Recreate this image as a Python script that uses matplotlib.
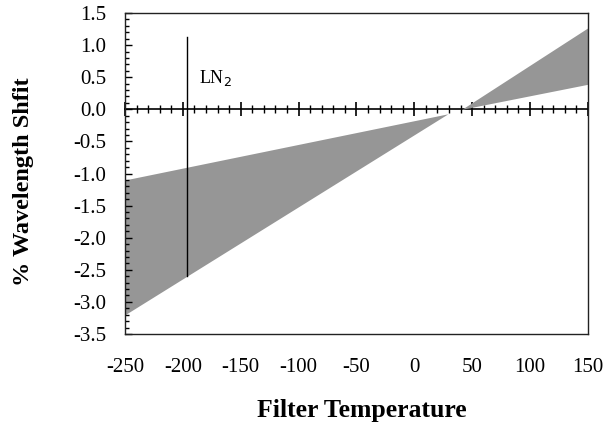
import matplotlib
matplotlib.use("Agg")
import matplotlib.pyplot as plt
from matplotlib.ticker import MultipleLocator

plt.rcParams['font.family'] = ['Liberation Serif', 'DejaVu Serif']

# Data
cold_temp = [-250, 29]
cold_upper = [-1.1, -0.07]
cold_lower = [-3.2, -0.07]
warm_temp = [41, 150]
warm_upper = [0.0, 1.27]
warm_lower = [0.0, 0.39]
ln2_temp = -196
ln2_range = [-2.6, 1.13]
x_ticks = [-250, -200, -150, -100, -50, 0, 50, 100, 150]
y_ticks = [1.5, 1.0, 0.5, 0.0, -0.5, -1.0, -1.5, -2.0, -2.5, -3.0, -3.5]

fig = plt.figure(figsize=(6.03, 4.25), dpi=100)
ax = fig.add_axes([0.2073, 0.2141, 0.975 - 0.2073, 0.9694 - 0.2141])

fill_col = '#969696'
ax.fill_between(cold_temp, cold_lower, cold_upper, color=fill_col, linewidth=0)
ax.fill_between(warm_temp, warm_lower, warm_upper, color=fill_col, linewidth=0)
ax.plot([ln2_temp, ln2_temp], ln2_range, color='black', linewidth=1.0)
ax.text(-186, 0.48, 'LN$_2$', fontsize=13, va='center', ha='left')

ax.set_xlim(-250, 150)
ax.set_ylim(-3.5, 1.5)
ax.set_xticks(x_ticks)
ax.set_xticklabels([str(v) for v in x_ticks])
ax.set_yticks(y_ticks)
ax.set_yticklabels([f'{v:.1f}' for v in y_ticks])
ax.yaxis.set_minor_locator(MultipleLocator(0.1))
ax.tick_params(axis='x', which='both', length=0, pad=17.5, labelsize=15)
ax.tick_params(axis='y', which='major', direction='in', length=5, width=1, pad=13.5, labelsize=15)
ax.tick_params(axis='y', which='minor', direction='in', length=3, width=1)

for s in ax.spines.values():
    s.set_linewidth(1.0)
    s.set_color('#222222')

sec = ax.secondary_xaxis(0.7)
sec.set_xticks(x_ticks)
sec.xaxis.set_minor_locator(MultipleLocator(10))
sec.tick_params(which='major', direction='inout', length=10, width=1.2, labelbottom=False, labeltop=False)
sec.tick_params(which='minor', direction='inout', length=6, width=1)
sec.spines['top'].set_linewidth(1.2)
sec.spines['bottom'].set_linewidth(1.2)

ax.set_xlabel('Filter Temperature', fontsize=18.5, fontweight='bold', va='center')
ax.xaxis.set_label_coords(0.511, -0.237)
ax.set_ylabel('% Wavelength Shfit', fontsize=17.5, fontweight='bold', va='center')
ax.yaxis.set_label_coords(-0.22, 0.473)

fig.savefig('out.png', dpi=100)
